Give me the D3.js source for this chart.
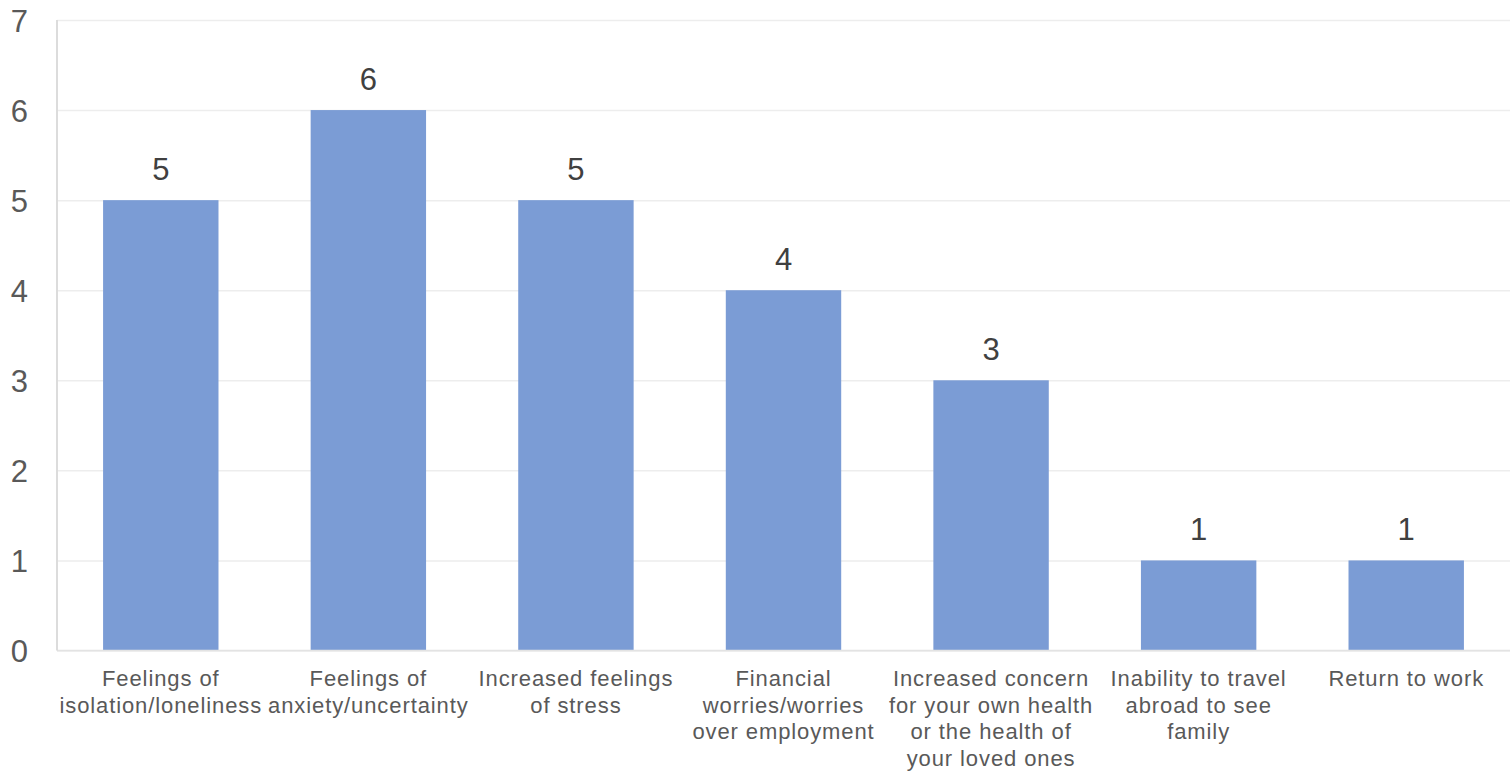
<!DOCTYPE html>
<html>
<head>
<meta charset="utf-8">
<script src="https://cdn.jsdelivr.net/npm/d3@7"></script>
<style>
  html, body { margin: 0; padding: 0; background: #ffffff; }
  svg { display: block; }
  text { font-family: "Liberation Sans", Arial, sans-serif; }
</style>
</head>
<body>
<svg id="chart" width="1512" height="773"></svg>
<script>
// Reported effects (count of responses)
const categories = [
  "Feelings of\nisolation/loneliness",
  "Feelings of\nanxiety/uncertainty",
  "Increased feelings\nof stress",
  "Financial\nworries/worries\nover employment",
  "Increased concern\nfor your own health\nor the health of\nyour loved ones",
  "Inability to travel\nabroad to see\nfamily",
  "Return to work"
];
const counts = [5, 6, 5, 4, 3, 1, 1];
const yTicks = [0, 1, 2, 3, 4, 5, 6, 7];

const svg = d3.select("#chart");
const plot = { left: 57, right: 1510, top: 20, bottom: 650.5 };

const x = d3.scaleBand()
  .domain(categories)
  .range([plot.left, plot.right])
  .paddingInner(0.444)
  .paddingOuter(0.222);

const y = d3.scaleLinear()
  .domain([0, 7])
  .range([plot.bottom, plot.top]);

// Horizontal gridlines
const grid = svg.append("g")
  .attr("transform", `translate(${plot.left},0)`)
  .call(d3.axisLeft(y).tickValues(yTicks).tickSize(-(plot.right - plot.left)).tickFormat(""));
grid.select(".domain").remove();
grid.selectAll(".tick line").attr("stroke", "#ededed").attr("stroke-width", 1.5);

// Bars
svg.append("g")
  .selectAll("rect")
  .data(counts)
  .join("rect")
  .attr("x", (d, i) => x(categories[i]))
  .attr("y", d => y(d))
  .attr("width", x.bandwidth())
  .attr("height", d => y(0) - y(d))
  .attr("fill", "#7b9cd5");

// Baseline and left axis line
svg.append("line")
  .attr("x1", plot.left).attr("x2", plot.right)
  .attr("y1", y(0)).attr("y2", y(0))
  .attr("stroke", "#e3e3e3").attr("stroke-width", 1.5);
svg.append("line")
  .attr("x1", plot.left).attr("x2", plot.left)
  .attr("y1", y(7)).attr("y2", y(0))
  .attr("stroke", "#dcdcdc").attr("stroke-width", 2);

// Y tick labels
const yAxis = svg.append("g")
  .attr("transform", `translate(28,0)`)
  .call(d3.axisLeft(y).tickValues(yTicks).tickSize(0).tickPadding(0).tickFormat(d3.format("d")));
yAxis.select(".domain").remove();
yAxis.selectAll(".tick text")
  .attr("font-size", 31)
  .attr("font-family", "'Liberation Sans', Arial, sans-serif")
  .attr("fill", "#595959")
  .attr("dy", "0.36em");

// Value labels above bars
svg.append("g")
  .selectAll("text")
  .data(counts)
  .join("text")
  .attr("x", (d, i) => x(categories[i]) + x.bandwidth() / 2)
  .attr("y", d => y(d) - 20)
  .attr("text-anchor", "middle")
  .attr("font-size", 31)
  .attr("fill", "#404040")
  .text(d => d);

// Category labels, one tspan per line
const catLabels = svg.append("g")
  .selectAll("text")
  .data(categories)
  .join("text")
  .attr("x", d => x(d) + x.bandwidth() / 2)
  .attr("y", 686)
  .attr("text-anchor", "middle")
  .attr("font-size", 22)
  .attr("letter-spacing", 0.9)
  .attr("fill", "#595959");
catLabels.each(function(d) {
  const t = d3.select(this);
  const cx = x(d) + x.bandwidth() / 2;
  d.split("\n").forEach((line, k) => {
    t.append("tspan")
      .attr("x", cx)
      .attr("y", 686 + k * 26.5)
      .text(line);
  });
});
</script>
</body>
</html>
